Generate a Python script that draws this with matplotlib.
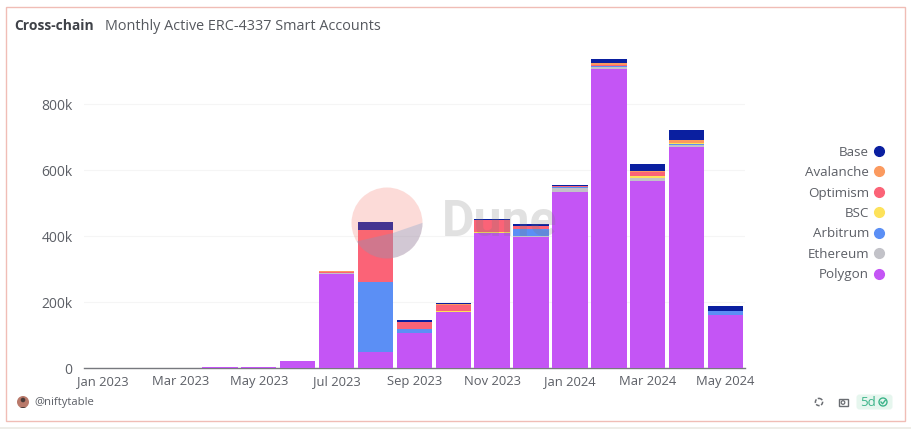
import matplotlib
matplotlib.use("Agg")
import matplotlib.pyplot as plt
import numpy as np
from matplotlib.lines import Line2D
from matplotlib.patches import Circle, Rectangle, Wedge, FancyBboxPatch, Polygon
from matplotlib.transforms import Affine2D

plt.rcParams['font.family'] = ['Open Sans', 'DejaVu Sans']

# monthly values, in thousands
months = ['Jan 2023', 'Feb 2023', 'Mar 2023', 'Apr 2023', 'May 2023', 'Jun 2023',
          'Jul 2023', 'Aug 2023', 'Sep 2023', 'Oct 2023', 'Nov 2023', 'Dec 2023',
          'Jan 2024', 'Feb 2024', 'Mar 2024', 'Apr 2024', 'May 2024']
polygon = [0, 0, 0, 4, 4, 22, 285, 50, 105, 169, 408, 398, 534, 906, 567, 671, 160]
ethereum = [0, 0, 0, 0, 0, 0, 2, 0, 1, 1, 1, 1, 10, 6, 8, 6, 2]
arbitrum = [0, 0, 0, 0, 0, 0, 0, 212, 12, 0, 0, 21, 3, 3, 2, 2, 11]
bsc = [0, 0, 0, 0, 0, 0, 1, 0, 0, 2, 3, 0, 1, 1, 5, 2, 0]
optimism = [0, 0, 0, 0, 0, 0, 3, 156, 21, 20, 36, 10, 3, 2, 12, 2, 1]
avalanche = [0, 0, 0, 0, 0, 0, 2, 0, 1, 1, 1, 1, 1, 7, 3, 9, 0]
base = [0, 0, 0, 0, 0, 0, 1, 25, 5, 3, 4, 6, 3, 10, 21, 28, 15]

names = ['Polygon', 'Ethereum', 'Arbitrum', 'BSC', 'Optimism', 'Avalanche', 'Base']
series = [polygon, ethereum, arbitrum, bsc, optimism, avalanche, base]
colors = ['#C455F5', '#C2C2C8', '#5B8FF5', '#FDE25A', '#FB6377', '#FB9A5F', '#0A1FA0']

TEXT = '#5C5F66'

fig = plt.figure(figsize=(9.12, 4.29), dpi=100, facecolor='white')
W, H = 912, 429
# reference pixel coordinates for everything around the plot
ref = Affine2D().scale(1, -1).translate(0, H)

ax = fig.add_axes([83.7 / W, (H - 368) / H, (745 - 83.7) / W, 318 / H])
x = np.arange(len(months))
bottom = np.zeros(len(months))
for name, vals, col in zip(names, series, colors):
    vals = np.array(vals)
    # skip empty months, zero-height bars still paint a pixel row
    keep = vals > 0
    ax.bar(x[keep], vals[keep], width=0.91, bottom=bottom[keep], color=col, label=name, zorder=3)
    bottom += vals

ax.set_xlim(-0.5, len(months) - 0.5)
ax.set_ylim(0, 318 / 0.33)
ax.set_yticks([0, 200, 400, 600, 800])
ax.set_yticklabels(['0', '200k', '400k', '600k', '800k'])
ax.set_xticks(x[::2])
ax.set_xticklabels(months[::2])
ax.tick_params(axis='x', length=0, labelsize=9.4, labelcolor=TEXT, pad=5)
ax.tick_params(axis='y', length=0, labelsize=10, labelcolor=TEXT, pad=8)
ax.grid(axis='y', color='#F5F5F5', linewidth=0.8, zorder=0)
ax.set_axisbelow(True)
for side in ['top', 'right', 'left']:
    ax.spines[side].set_visible(False)
ax.spines['bottom'].set_color('#77797E')
ax.spines['bottom'].set_linewidth(1.0)
ax.spines['bottom'].set_zorder(1)

# legend, Base on top
handles = [Line2D([], [], linestyle='none', marker='o', markersize=7, color=c) for c in colors[::-1]]
fig.legend(handles, names[::-1], loc='center right', bbox_to_anchor=(887 / W, (H - 213.5) / H),
           frameon=False, markerfirst=False, fontsize=9.6, labelcolor=TEXT, labelspacing=0.56,
           handletextpad=0.15, handlelength=1.2, borderpad=0, borderaxespad=0)

# card frame
fig.add_artist(Rectangle((6, 7), 899, 414, transform=ref, fill=False, edgecolor='#F0BDB6',
                         linewidth=1, zorder=-1))
fig.add_artist(Rectangle((0, 427), 912, 2, transform=ref, facecolor='#EEEDE8', edgecolor='none', zorder=-1))

# titles
fig.text(14, 26.5, 'Cross-chain', transform=ref, fontsize=10, fontweight='bold', color='#3F4248', va='center')
fig.text(105, 26.5, 'Monthly Active ERC-4337 Smart Accounts', transform=ref, fontsize=10.35, color='#55585E', va='center')

# Dune watermark
logo = fig.add_artist(Circle((387, 223), 35.5, transform=ref, facecolor='#F57366', edgecolor='none', alpha=0.25, zorder=5))
lens = fig.add_artist(Polygon([(350, 243), (393, 233), (425, 222), (425, 262), (350, 262)], transform=ref,
                              facecolor='#739ECC', edgecolor='none', alpha=0.30, zorder=5))
lens.set_clip_path(logo)
fig.text(442, 223, 'Dune', transform=ref, fontsize=36, fontweight='bold', color='#777777', alpha=0.22,
         va='center', zorder=5, family='Roboto')

# footer: author
avatar = fig.add_artist(Circle((23, 402), 6, transform=ref, facecolor='#B9796A', edgecolor='none'))
fig.add_artist(Circle((23, 400), 2.3, transform=ref, facecolor='#4A3A38', edgecolor='none'))
shoulders = fig.add_artist(Wedge((23, 407), 4.2, 0, 180, transform=ref, facecolor='#4A3A38', edgecolor='none'))
shoulders.set_clip_path(avatar)
fig.text(34, 402, '@niftytable', transform=ref, fontsize=8.1, color=TEXT, va='center')

# footer: refresh, camera, freshness badge
fig.add_artist(Circle((819, 402), 3.6, transform=ref, fill=False, edgecolor='#6A6D72', linewidth=1.1, linestyle=(0, (2.5, 1))))
fig.add_artist(Rectangle((838.5, 399), 9, 7, transform=ref, fill=False, edgecolor='#6A6D72', linewidth=1))
fig.add_artist(Circle((843, 402.5), 1.8, transform=ref, fill=False, edgecolor='#6A6D72', linewidth=0.9))
fig.add_artist(FancyBboxPatch((858, 396), 33, 12, boxstyle='round,pad=1.5,rounding_size=3', transform=ref,
                              facecolor='#E6F6EE', edgecolor='none'))
fig.text(860, 402, '5d', transform=ref, fontsize=9.5, color='#3DB48A', va='center')
fig.add_artist(Circle((883, 402), 4, transform=ref, fill=False, edgecolor='#3DB48A', linewidth=1))
fig.add_artist(Line2D([881, 882.6, 885.2], [402, 403.8, 400.4], transform=ref, color='#3DB48A', linewidth=1))

fig.savefig('out.png', dpi=100)
